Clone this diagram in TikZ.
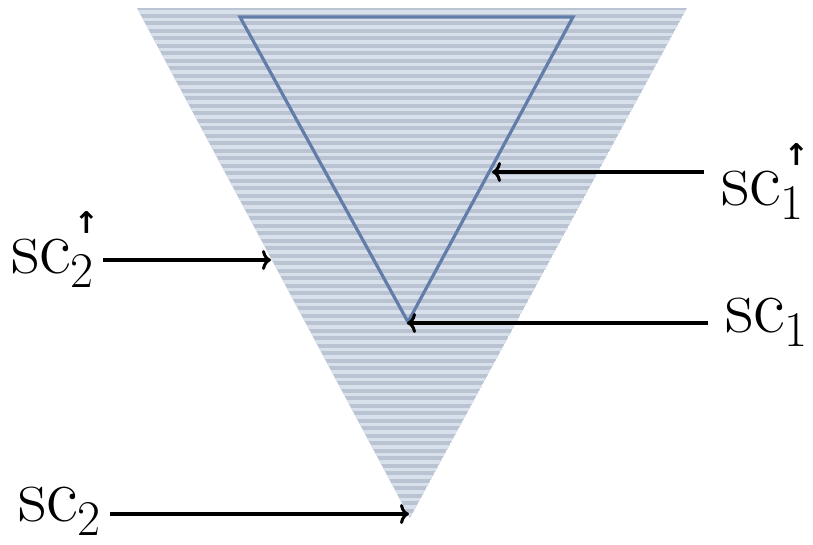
\documentclass[tikz,border=0pt]{standalone}
\usepackage{fontspec}
\newfontfamily\arrowfont{DejaVu Sans}
\usetikzlibrary{arrows.meta}
\definecolor{fillbase}{RGB}{186,195,210}
\definecolor{filllight}{RGB}{216,224,236}
\definecolor{innerline}{RGB}{98,126,168}
\newcommand{\lowsub}[1]{\raisebox{-14pt}{\fontsize{50}{50}\selectfont #1}}
\newcommand{\upsub}[1]{\rlap{\lowsub{#1}}\raisebox{40pt}{\fontsize{30}{30}\arrowfont\bfseries\selectfont\kern3pt ↑}}
\tikzset{
  lbl/.style={inner sep=0pt, anchor=base west, font=\rmfamily\fontsize{78}{78}\selectfont},
  arr/.style={line width=3.2pt, -{To[length=9pt,width=20pt,line width=3pt]}},
  inner tri/.style={draw=innerline, line width=3.2pt, line join=miter},
}
\begin{document}
\begin{tikzpicture}[x=1pt,y=-1pt]
\useasboundingbox (0,0) rectangle (813,544);
% outer triangle corners
\coordinate (OL) at (137,8);
\coordinate (OR) at (687,8);
\coordinate (OA) at (410,518);
% inner triangle corners
\coordinate (IL) at (240,17);
\coordinate (IR) at (573,17);
\coordinate (IA) at (408,322);
% striped fill
\begin{scope}
  \clip (OL) -- (OR) -- (OA) -- cycle;
  \fill[fillbase] (OL) -- (OR) -- (OA) -- cycle;
  \foreach \y in {10,17.5,...,520} {
    \fill[filllight] (130,\y) rectangle (700,\y+3.5);
  }
\end{scope}
% inner triangle
\draw[inner tri] (IL) -- (IR) -- (IA) -- cycle;
% labels
\node[lbl] (sc1u) at (721,205) {sc\upsub{1}};
\node[lbl] (sc1)  at (725,332) {sc\lowsub{1}};
\node[lbl] (sc2u) at (11,273)  {sc\upsub{2}};
\node[lbl] (sc2)  at (18,521)  {sc\lowsub{2}};
% arrow start points and targets
\coordinate (a1u) at (704,172);
\coordinate (t1u) at (492,172);
\coordinate (a1)  at (708,323);
\coordinate (t1)  at (407,323);
\coordinate (a2u) at (103,260);
\coordinate (t2u) at (271,260);
\coordinate (a2)  at (110,514);
\coordinate (t2)  at (409,514);
\draw[arr] (a1u) -- (t1u);
\draw[arr] (a1) -- (t1);
\draw[arr] (a2u) -- (t2u);
\draw[arr] (a2) -- (t2);
\end{tikzpicture}
\end{document}
